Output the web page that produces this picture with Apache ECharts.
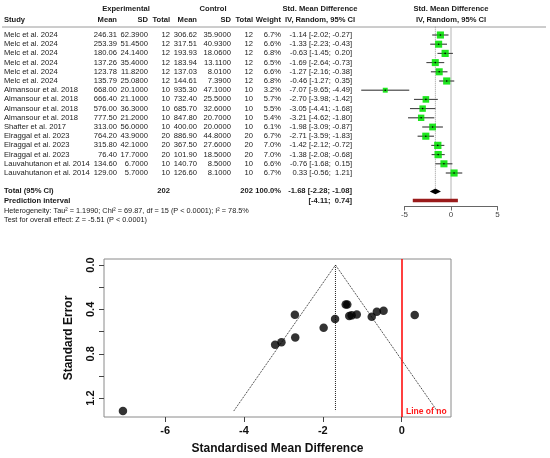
<!DOCTYPE html>
<html>
<head>
<meta charset="utf-8">
<script src="https://cdn.jsdelivr.net/npm/echarts@6/dist/echarts.min.js"></script>
<style>
html, body { margin: 0; padding: 0; background: #fff; }
#main { width: 550px; height: 458px; }
</style>
</head>
<body>
<div id="main"></div>
<script>
// study table
var studies = ['Melc et al. 2024', 'Melc et al. 2024', 'Melc et al. 2024', 'Melc et al. 2024',
  'Melc et al. 2024', 'Melc et al. 2024', 'Almansour et al. 2018', 'Almansour et al. 2018',
  'Almansour et al. 2018', 'Almansour et al. 2018', 'Shafter et al. 2017', 'Elraggal et al. 2023',
  'Elraggal et al. 2023', 'Elraggal et al. 2023', 'Lauvahutanon et al. 2014', 'Lauvahutanon et al. 2014'];
var expMean = [246.31, 253.39, 180.06, 137.26, 123.78, 135.79, 668.00, 666.40, 576.00, 777.50, 313.00, 764.20, 315.80, 76.40, 134.60, 129.00];
var expSD = [62.39, 51.45, 24.14, 35.40, 11.82, 25.08, 20.10, 21.10, 36.30, 21.20, 56.00, 43.90, 42.10, 17.70, 6.70, 5.70];
var expN = [12, 12, 12, 12, 12, 12, 10, 10, 10, 10, 10, 20, 20, 20, 10, 10];
var ctlMean = [306.62, 317.51, 193.93, 183.94, 137.03, 144.61, 935.30, 732.40, 685.70, 847.80, 400.00, 886.90, 367.50, 101.90, 140.70, 126.60];
var ctlSD = [35.90, 40.93, 18.06, 13.11, 8.01, 7.39, 47.10, 25.50, 32.60, 20.70, 20.00, 44.80, 27.60, 18.50, 8.50, 8.10];
var ctlN = [12, 12, 12, 12, 12, 12, 10, 10, 10, 10, 10, 20, 20, 20, 10, 10];
var weight = [6.7, 6.6, 6.8, 6.5, 6.6, 6.8, 3.2, 5.7, 5.5, 5.4, 6.1, 6.7, 7.0, 7.0, 6.6, 6.7];
var smd = [-1.14, -1.33, -0.63, -1.69, -1.27, -0.46, -7.07, -2.70, -3.05, -3.21, -1.98, -2.71, -1.42, -1.38, -0.76, 0.33];
var ciLow = [-2.02, -2.23, -1.45, -2.64, -2.16, -1.27, -9.65, -3.98, -4.41, -4.62, -3.09, -3.59, -2.12, -2.08, -1.68, -0.56];
var ciHigh = [-0.27, -0.43, 0.20, -0.73, -0.38, 0.35, -4.49, -1.42, -1.68, -1.80, -0.87, -1.83, -0.72, -0.68, 0.15, 1.21];

// pooled result
var pooled = [-1.68, -2.28, -1.08];
var predInterval = [-4.11, 0.74];
var totalN = [202, 202];

// tick labels
var forestTicks = [-5, 0, 5];
var funnelXTicks = [-6, -4, -2, 0];
var funnelYTicks = [0, 0.2, 0.4, 0.6, 0.8, 1.0, 1.2];
var funnelYLabels = [0, 0.4, 0.8, 1.2];

var FONT = '"Liberation Sans", Arial, sans-serif';
var FS = 7.6;
var TOTAL_ROW = 17, PRED_ROW = 18;

function f2(v) { return v.toFixed(2); }
function f4(v) { return v.toFixed(4); }
function ciText(v, lo, hi) {
  return f2(v) + ' [' + f2(lo) + '; ' + (hi >= 0 ? ' ' : '') + f2(hi) + ']';
}
function txt(x, y, s, align, bold, size, color) {
  return {
    type: 'text', x: x, y: y,
    style: {
      text: s, align: align, verticalAlign: 'middle', fontFamily: FONT,
      fontSize: size || FS, fontWeight: bold ? 'bold' : 'normal', fill: color || '#1a1a1a'
    }
  };
}

// standard errors from the confidence intervals, for the funnel plot
var se = smd.map(function (v, i) { return (ciHigh[i] - ciLow[i]) / 3.92; });
var seMax = Math.max.apply(null, se);

var myChart = echarts.init(document.getElementById('main'));

var rowAxis = { type: 'value', min: -1, max: 20, inverse: true, show: false };

var option = {
  animation: false,
  textStyle: { fontFamily: FONT },
  grid: [
    { left: 0, width: 550, top: 25.8, height: 193.2 },          // table text
    { left: 358, right: 6, top: 25.8, height: 193.2 },          // forest marks
    { left: 404.5, right: 52.5, top: 180, height: 26.5 },       // forest axis
    { left: 104, right: 99, top: 259, bottom: 41, show: true,
      borderColor: '#8a8a8a', borderWidth: 1 }                 // funnel
  ],
  xAxis: [
    { gridIndex: 0, type: 'value', min: 0, max: 550, show: false },
    { gridIndex: 1, type: 'value', min: -10, max: 10, show: false },
    { gridIndex: 2, type: 'value', min: -5, max: 5, interval: 5,
      axisLine: { onZero: false, lineStyle: { color: '#666' } },
      axisTick: { length: 4, lineStyle: { color: '#666' } },
      axisLabel: { fontSize: 8, color: '#444', margin: 4,
        customValues: forestTicks },
      splitLine: { show: false } },
    { gridIndex: 3, type: 'value', min: -7.55, max: 1.25,
      axisLine: { onZero: false, show: false },
      axisTick: { length: 5, lineStyle: { color: '#444' }, customValues: funnelXTicks },
      axisLabel: { fontSize: 11, fontWeight: 'bold', color: '#111', margin: 8,
        customValues: funnelXTicks },
      splitLine: { show: false },
      name: 'Standardised Mean Difference', nameLocation: 'middle', nameGap: 26,
      nameTextStyle: { fontSize: 12, fontWeight: 'bold', color: '#111' } }
  ],
  yAxis: [
    Object.assign({ gridIndex: 0 }, rowAxis),
    Object.assign({ gridIndex: 1 }, rowAxis),
    { gridIndex: 2, type: 'value', min: 0, max: 1, show: false },
    { gridIndex: 3, type: 'value', min: -0.054, max: 1.37, inverse: true,
      axisLine: { onZero: false, show: false },
      axisTick: { length: 5, lineStyle: { color: '#444' }, customValues: funnelYTicks },
      axisLabel: { fontSize: 11, fontWeight: 'bold', color: '#111', margin: 8, rotate: 90,
        customValues: funnelYLabels,
        formatter: function (v) { return Number(v).toFixed(1); } },
      splitLine: { show: false },
      name: 'Standard Error', nameLocation: 'middle', nameGap: 29, nameRotate: 90,
      nameTextStyle: { fontSize: 12, fontWeight: 'bold', color: '#111' } }
  ],
  graphic: [
    { type: 'line', shape: { x1: 2, y1: 27, x2: 546, y2: 27 }, style: { stroke: '#9a9a9a', lineWidth: 1 } },
    txt(126, 9, 'Experimental', 'center', true),
    txt(213, 9, 'Control', 'center', true),
    txt(320, 9, 'Std. Mean Difference', 'center', true),
    txt(451, 9, 'Std. Mean Difference', 'center', true),
    txt(4, 19.5, 'Study', 'left', true),
    txt(117, 19.5, 'Mean', 'right', true),
    txt(148, 19.5, 'SD', 'right', true),
    txt(170, 19.5, 'Total', 'right', true),
    txt(197, 19.5, 'Mean', 'right', true),
    txt(231, 19.5, 'SD', 'right', true),
    txt(253, 19.5, 'Total', 'right', true),
    txt(281, 19.5, 'Weight', 'right', true),
    txt(320, 19.5, 'IV, Random, 95% CI', 'center', true),
    txt(451, 19.5, 'IV, Random, 95% CI', 'center', true),
    txt(4, 211.3, 'Heterogeneity: Tau\u00b2 = 1.1990; Chi\u00b2 = 69.87, df = 15 (P < 0.0001); I\u00b2 = 78.5%', 'left', false, 7.3),
    txt(4, 219.8, 'Test for overall effect: Z = -5.51 (P < 0.0001)', 'left', false, 7.3),
    txt(406, 412, 'Line of no', 'left', true, 8.5, '#ff1a1a')
  ],
  series: [
    {
      // study rows of the table
      type: 'custom', xAxisIndex: 0, yAxisIndex: 0,
      data: studies.map(function (s, i) { return [0, i]; }),
      encode: { x: 0, y: 1 },
      renderItem: function (params, api) {
        var i = api.value(1);
        var y = api.coord([0, i])[1];
        var X = function (px) { return api.coord([px, i])[0]; };
        return { type: 'group', children: [
          txt(X(4), y, studies[i], 'left'),
          txt(X(117), y, f2(expMean[i]), 'right'),
          txt(X(148), y, f4(expSD[i]), 'right'),
          txt(X(170), y, String(expN[i]), 'right'),
          txt(X(197), y, f2(ctlMean[i]), 'right'),
          txt(X(231), y, f4(ctlSD[i]), 'right'),
          txt(X(253), y, String(ctlN[i]), 'right'),
          txt(X(281), y, weight[i].toFixed(1) + '%', 'right'),
          txt(X(352), y, ciText(smd[i], ciLow[i], ciHigh[i]), 'right')
        ] };
      }
    },
    {
      // total and prediction rows
      type: 'custom', xAxisIndex: 0, yAxisIndex: 0,
      data: [[0, TOTAL_ROW], [0, PRED_ROW]],
      encode: { x: 0, y: 1 },
      renderItem: function (params, api) {
        var i = api.value(1);
        var y = api.coord([0, i])[1];
        var X = function (px) { return api.coord([px, i])[0]; };
        if (i === TOTAL_ROW) {
          return { type: 'group', children: [
            txt(X(4), y, 'Total (95% CI)', 'left', true),
            txt(X(170), y, String(totalN[0]), 'right', true),
            txt(X(253), y, String(totalN[1]), 'right', true),
            txt(X(281), y, '100.0%', 'right', true),
            txt(X(352), y, ciText(pooled[0], pooled[1], pooled[2]), 'right', true)
          ] };
        }
        return { type: 'group', children: [
          txt(X(4), y, 'Prediction interval', 'left', true),
          txt(X(352), y, '[' + f2(predInterval[0]) + '; ' + (predInterval[1] >= 0 ? ' ' : '') + f2(predInterval[1]) + ']', 'right', true)
        ] };
      }
    },
    {
      // line of no effect in the forest plot
      type: 'line', xAxisIndex: 1, yAxisIndex: 1, symbol: 'none', silent: true,
      data: [[0, -0.9], [0, 18.1]],
      lineStyle: { color: '#b4b4b4', width: 1 }, z: 1
    },
    {
      // pooled estimate reference line
      type: 'line', xAxisIndex: 1, yAxisIndex: 1, symbol: 'none', silent: true,
      data: [[pooled[0], -0.9], [pooled[0], 16.7]],
      lineStyle: { color: '#999', width: 1, type: 'dotted' }, z: 1
    },
    {
      // study squares and confidence intervals
      type: 'custom', xAxisIndex: 1, yAxisIndex: 1, z: 3,
      data: smd.map(function (v, i) { return [v, ciLow[i], ciHigh[i], i, weight[i]]; }),
      encode: { x: [0, 1, 2], y: 3 },
      renderItem: function (params, api) {
        var r = api.value(3);
        var p = api.coord([api.value(0), r]);
        var a = api.coord([api.value(1), r]);
        var b = api.coord([api.value(2), r]);
        var s = 2.75 * Math.sqrt(api.value(4));
        return { type: 'group', children: [
          { type: 'line', shape: { x1: a[0], y1: a[1], x2: b[0], y2: b[1] },
            style: { stroke: '#555', lineWidth: 1 } },
          { type: 'rect', shape: { x: p[0] - s / 2, y: p[1] - s / 2, width: s, height: s },
            style: { fill: '#1ee61e' } },
          { type: 'line', shape: { x1: a[0], y1: a[1], x2: b[0], y2: b[1] },
            style: { stroke: 'rgba(0,0,0,0.3)', lineWidth: 1 } },
          { type: 'circle', shape: { cx: p[0], cy: p[1], r: 0.8 }, style: { fill: '#000' } }
        ] };
      }
    },
    {
      // pooled diamond
      type: 'custom', xAxisIndex: 1, yAxisIndex: 1, z: 3,
      data: [[pooled[0], pooled[1], pooled[2], TOTAL_ROW]],
      encode: { x: [0, 1, 2], y: 3 },
      renderItem: function (params, api) {
        var r = api.value(3);
        var p = api.coord([api.value(0), r]);
        var a = api.coord([api.value(1), r]);
        var b = api.coord([api.value(2), r]);
        var h = 2.8;
        return { type: 'polygon',
          shape: { points: [[a[0], p[1]], [p[0], p[1] - h], [b[0], p[1]], [p[0], p[1] + h]] },
          style: { fill: '#000' } };
      }
    },
    {
      // prediction interval bar
      type: 'line', xAxisIndex: 1, yAxisIndex: 1, symbol: 'none', silent: true, z: 3,
      data: [[predInterval[0], PRED_ROW], [predInterval[1], PRED_ROW]],
      lineStyle: { color: '#9a1b1b', width: 3.5, cap: 'butt' }
    },
    {
      // funnel: studies
      type: 'scatter', xAxisIndex: 3, yAxisIndex: 3, z: 4,
      symbol: 'circle', symbolSize: 8.5,
      itemStyle: { color: '#000' },
      data: smd.map(function (v, i) { return [v, se[i]]; }),
      markLine: {
        silent: true, symbol: 'none', label: { show: false },
        lineStyle: { color: '#ff0000', type: 'solid', width: 1.5, opacity: 1 },
        emphasis: { disabled: true },
        data: [{ xAxis: 0 }]
      }
    },
    {
      type: 'line', xAxisIndex: 3, yAxisIndex: 3, symbol: 'none', silent: true,
      data: [[pooled[0] - 1.96 * seMax, seMax], [pooled[0], 0], [pooled[0] + 1.96 * seMax, seMax]],
      lineStyle: { color: '#222', width: 1, type: 'dotted' }
    },
    {
      type: 'line', xAxisIndex: 3, yAxisIndex: 3, symbol: 'none', silent: true,
      data: [[pooled[0], 0], [pooled[0], seMax]],
      lineStyle: { color: '#222', width: 1, type: 'dotted' }
    }
  ]
};

myChart.setOption(option);
</script>
</body>
</html>
